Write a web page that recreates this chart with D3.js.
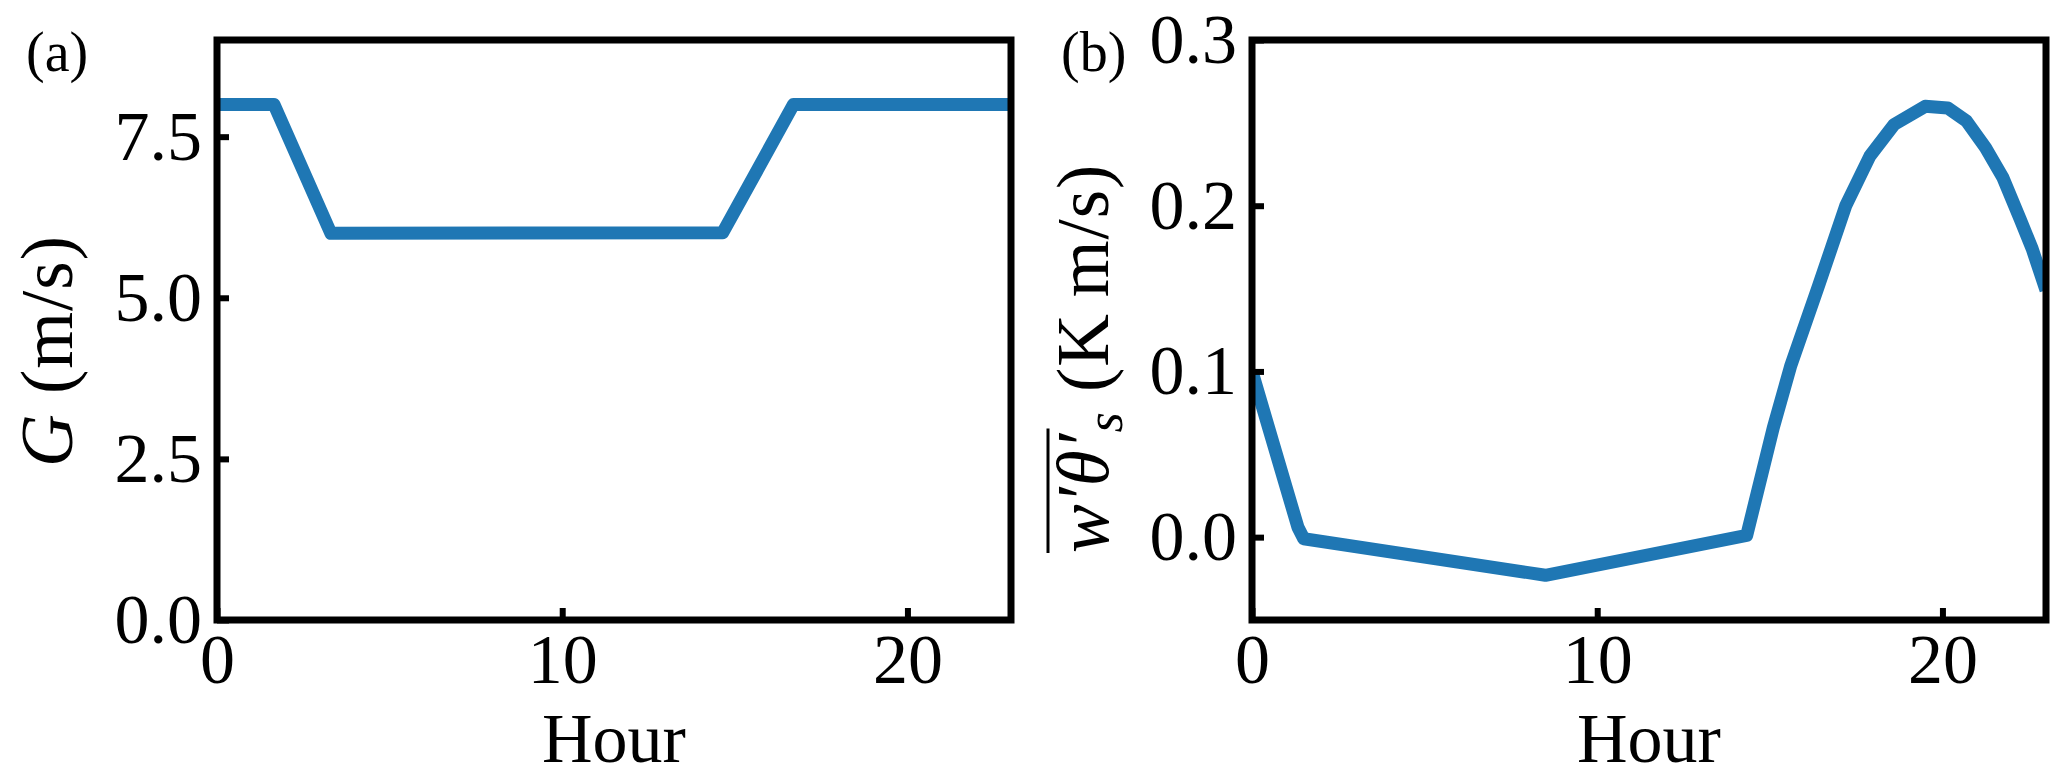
<!DOCTYPE html>
<html>
<head>
<meta charset="utf-8">
<script src="https://cdn.jsdelivr.net/npm/d3@7"></script>
<style>
  body { margin: 0; background: #fff; }
  svg { display: block; }
  text { font-family: "Liberation Serif", "DejaVu Serif", serif; fill: #000; }
</style>
</head>
<body>
<svg id="chart"></svg>
<script>
let width = 2067;
let height = 778;

// panel (a): geostrophic wind G (m/s)
let hoursA = [0, 1.65, 3.3, 14.65, 16.7, 23];
let windA = [8, 8, 6, 6.01, 8, 8];

// panel (b): surface heat flux (K m/s)
let hoursB = [0, 1.33, 1.5, 8.5, 14.33, 15.1, 15.6, 16.4, 17.2, 17.9, 18.6, 19.5, 20.15, 20.7, 21.25, 21.75, 22.25, 22.6, 23];
let fluxB = [0.1, 0.006, -0.001, -0.023, 0.001, 0.066, 0.103, 0.151, 0.2, 0.23, 0.249, 0.26, 0.259, 0.251, 0.235, 0.217, 0.192, 0.174, 0.149];

let xTicks = [0, 10, 20];
let yTicksA = [0, 2.5, 5, 7.5];
let yTicksB = [0, 0.1, 0.2, 0.3];

let fontSize = 70;
let labelSize = 73;
let lineColor = '#1f77b4';

let svg = d3.select('#chart')
            .attr('width', width)
            .attr('height', height);

function panel(opts) {
    let x = d3.scaleLinear().domain([0, 23]).range([opts.left, opts.right]);
    let y = d3.scaleLinear().domain(opts.yDomain).range([620, 40]);

    let g = svg.append('g');

    g.append('clipPath')
        .attr('id', opts.id + '-clip')
      .append('rect')
        .attr('x', opts.left)
        .attr('y', 40)
        .attr('width', opts.right - opts.left)
        .attr('height', 580);

    let line = d3.line()
                .x((d, i) => x(opts.xs[i]))
                .y(d => y(d));

    g.append('path')
        .datum(opts.ys)
        .attr('d', line)
        .attr('clip-path', `url(#${opts.id}-clip)`)
        .attr('fill', 'none')
        .attr('stroke', lineColor)
        .attr('stroke-width', 13)
        .attr('stroke-linejoin', 'round');

    let xAxis = g.append('g')
        .attr('transform', 'translate(0,620)')
        .call(d3.axisBottom(x).tickValues(xTicks).tickFormat(d3.format('d'))
                .tickSize(-12).tickPadding(13));

    let yAxis = g.append('g')
        .attr('transform', `translate(${opts.left},0)`)
        .call(d3.axisLeft(y).tickValues(opts.yTicks).tickFormat(d3.format('.1f'))
                .tickSize(-12).tickPadding(15));

    [xAxis, yAxis].forEach(a => {
        a.select('.domain').remove();
        a.selectAll('line').attr('stroke', '#000').attr('stroke-width', 6);
        a.selectAll('text').style('font-size', fontSize + 'px')
            .style('font-family', '"Liberation Serif", "DejaVu Serif", serif');
    });

    g.append('rect')
        .attr('x', opts.left)
        .attr('y', 40)
        .attr('width', opts.right - opts.left)
        .attr('height', 580)
        .attr('fill', 'none')
        .attr('stroke', '#000')
        .attr('stroke-width', 7);

    g.append('text')
        .attr('x', (opts.left + opts.right) / 2)
        .attr('y', 762)
        .attr('text-anchor', 'middle')
        .style('font-size', fontSize + 'px')
        .text('Hour');

    g.append('text')
        .attr('x', opts.left - 191)
        .attr('y', 71)
        .style('font-size', '56px')
        .text(opts.tag);

    return g;
}

let ga = panel({id: 'a', left: 217, right: 1011, xs: hoursA, ys: windA,
                yDomain: [0, 9], yTicks: yTicksA, tag: '(a)'});
let gb = panel({id: 'b', left: 1252, right: 2046, xs: hoursB, ys: fluxB,
                yDomain: [-0.05, 0.3], yTicks: yTicksB, tag: '(b)'});

// y labels
let labA = ga.append('text')
    .attr('transform', 'translate(72,467) rotate(-90)')
    .style('font-size', labelSize + 'px')
    .style('letter-spacing', '1px');
labA.append('tspan').style('font-style', 'italic').text('G');
labA.append('tspan').text('\u00a0(m/s)');

let labB = gb.append('text')
    .attr('transform', 'translate(1108,553) rotate(-90)')
    .style('font-size', labelSize + 'px')
    .style('letter-spacing', '1px');
labB.append('tspan').style('font-style', 'italic').text('w\u2032\u03b8\u2032');
labB.append('tspan').style('font-style', 'italic').style('font-size', '52px')
    .attr('dy', 14).text('s');
labB.append('tspan').attr('dy', -14).text('\u00a0(K\u2009m/s)');

// overline over w'θ'
let barLen = labB.node().getSubStringLength(0, 4);
gb.append('line')
    .attr('transform', 'translate(1108,553) rotate(-90)')
    .attr('x1', 0)
    .attr('x2', barLen + 4)
    .attr('y1', -60)
    .attr('y2', -60)
    .attr('stroke', '#000')
    .attr('stroke-width', 3);
</script>
</body>
</html>
